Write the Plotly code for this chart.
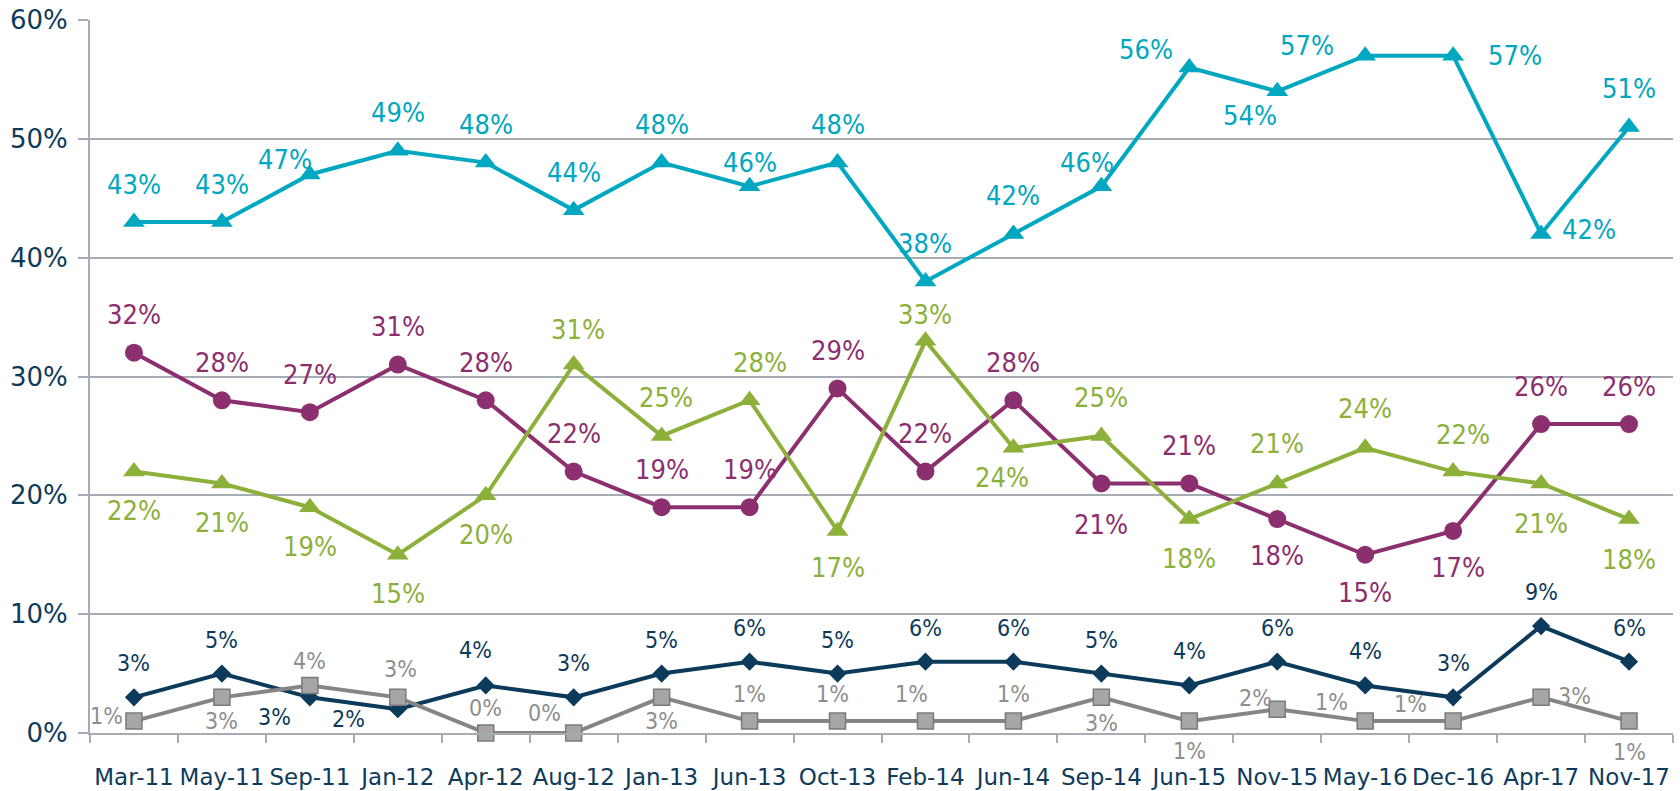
import plotly.graph_objects as go

# ---------------- data ----------------
categories = ["Mar-11", "May-11", "Sep-11", "Jan-12", "Apr-12", "Aug-12", "Jan-13",
              "Jun-13", "Oct-13", "Feb-14", "Jun-14", "Sep-14", "Jun-15", "Nov-15",
              "May-16", "Dec-16", "Apr-17", "Nov-17"]
teal_values = [43, 43, 47, 49, 48, 44, 48, 46, 48, 38, 42, 46, 56, 54, 57, 57, 42, 51]
purple_values = [32, 28, 27, 31, 28, 22, 19, 19, 29, 22, 28, 21, 21, 18, 15, 17, 26, 26]
green_values = [22, 21, 19, 15, 20, 31, 25, 28, 17, 33, 24, 25, 18, 21, 24, 22, 21, 18]
navy_values = [3, 5, 3, 2, 4, 3, 5, 6, 5, 6, 6, 5, 4, 6, 4, 3, 9, 6]
gray_values = [1, 3, 4, 3, 0, 0, 3, 1, 1, 1, 1, 3, 1, 2, 1, 1, 3, 1]
y_tick_values = [0, 10, 20, 30, 40, 50, 60]

# ---------------- label placement (pixel offsets from each point) ----------------
T, B = (0, 38), (0, -39)
teal_offsets = [T, T, (-25, 15), T, T, T, T, (0, 24), T, T, T, (-14, 24),
                (-43, 18), (-27, -24), (-58, 10), (62, 0), (48, 4), T]
purple_offsets = [T, T, T, T, T, T, T, T, T, T, T, (0, -41),
                  T, (0, -36), (0, -38), (5, -37), T, T]
green_offsets = [B, B, B, B, B, (4, 35), (4, 38), (10, 38), (0, -37), (0, 26), (-11, -30), T,
                 B, (0, 40), (0, 39), (10, 37), (0, -40), (0, -40)]
NT = (0, 34)
navy_offsets = [NT, NT, (-35, -20), (-49, -10), (-10, 35), NT, NT, NT, NT, NT, NT, NT,
                NT, NT, NT, NT, NT, NT]
GT, GB = (0, 27), (0, -24)
gray_offsets = [(-27, 5), GB, (0, 24), (3, 28), (0, 25), (-29, 20), GB, GT, (-5, 27), (-14, 27),
                GT, (0, -26), (0, -30), (-22, 11), (-34, 19), (-43, 17), (33, 1), (0, -31)]

LABEL_FONT = "DejaVu Sans Condensed, Liberation Sans Narrow, Arial Narrow, sans-serif"
AXIS_FONT = "DejaVu Sans, Liberation Sans, Arial, sans-serif"
NAVY_TEXT = "#0F3B5A"
GRID = "#A7ABB3"

series = [
    dict(name="navy", values=navy_values, offsets=navy_offsets, color="#0B3A5B",
         text="#0B3A5B", symbol="diamond", size=14, fsize=23, mline=None),
    dict(name="gray", values=gray_values, offsets=gray_offsets, color="#858585",
         text="#8E8E8E", symbol="square", size=16, fsize=23, mline="#7A7A7A", mfill="#A6A6A6"),
    dict(name="purple", values=purple_values, offsets=purple_offsets, color="#8C2F6E",
         text="#8C2F6E", symbol="circle", size=18, fsize=27, mline=None),
    dict(name="green", values=green_values, offsets=green_offsets, color="#8DB03B",
         text="#8DB03B", symbol="triangle-up", size=19, fsize=27, mline=None),
    dict(name="teal", values=teal_values, offsets=teal_offsets, color="#00A7C0",
         text="#00A7C0", symbol="triangle-up", size=19, fsize=27, mline=None),
]

fig = go.Figure()
annotations = []
for s in series:
    marker = dict(symbol=s["symbol"], size=s["size"], color=s.get("mfill", s["color"]))
    if s["mline"]:
        marker["line"] = dict(color=s["mline"], width=1.5)
    else:
        marker["line"] = dict(width=0)
    fig.add_trace(go.Scatter(
        x=categories, y=s["values"], mode="lines+markers", name=s["name"],
        line=dict(color=s["color"], width=4), marker=marker,
        showlegend=False, cliponaxis=False, hoverinfo="skip",
    ))
    for cat, v, (dx, dy) in zip(categories, s["values"], s["offsets"]):
        annotations.append(dict(
            x=cat, y=v, xref="x", yref="y", text=f"{v}%", showarrow=False,
            xshift=dx, yshift=dy, font=dict(family=LABEL_FONT, size=s["fsize"], color=s["text"]),
        ))

fig.update_layout(
    width=1680, height=791,
    margin=dict(l=90, r=7, t=20, b=58, autoexpand=False),
    paper_bgcolor="white", plot_bgcolor="white",
    annotations=annotations,
    font=dict(family=LABEL_FONT),
)
fig.update_xaxes(
    type="category", range=[-0.5, len(categories) - 0.5], automargin=False,
    showgrid=False, showline=True, linecolor=GRID, linewidth=2,
    ticks="outside", tickson="boundaries", ticklen=8, tickcolor=GRID, tickwidth=1.5,
    tickfont=dict(family=AXIS_FONT, size=23, color=NAVY_TEXT), tickangle=0,
    ticklabelstandoff=22,
)
fig.update_yaxes(
    range=[0, 60], tickvals=y_tick_values, ticktext=[f"{v}%" for v in y_tick_values],
    automargin=False,
    showgrid=True, gridcolor=GRID, gridwidth=1.5,
    showline=True, linecolor=GRID, linewidth=2, zeroline=False,
    ticks="outside", ticklen=10, tickcolor=GRID, tickwidth=1.5,
    tickfont=dict(family=AXIS_FONT, size=26, color=NAVY_TEXT),
    ticklabelstandoff=5,
)

fig.write_html("out.html", config={"displayModeBar": False},
               post_script="document.body.style.margin='0px';")
